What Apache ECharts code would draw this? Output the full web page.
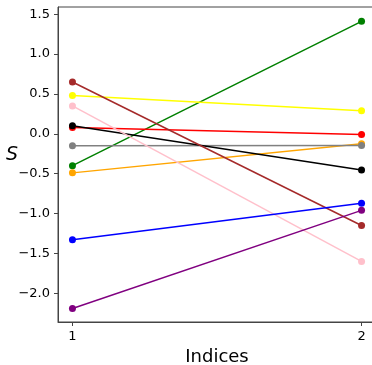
<!DOCTYPE html>
<html>
<head>
<meta charset="utf-8">
<script src="https://cdn.jsdelivr.net/npm/echarts@6/dist/echarts.min.js"></script>
<style>
  html, body { margin: 0; padding: 0; background: #fff; }
  #chart { width: 372px; height: 365px; }
</style>
</head>
<body>
<div id="chart"></div>
<script>
// x positions (indices)
const indices = [1, 2];
// one line per colour, values at index 1 and index 2
const seriesNames = ['green', 'yellow', 'red', 'orange', 'grey', 'black', 'brown', 'pink', 'blue', 'purple'];
const seriesColors = ['#008000', '#ffff00', '#ff0000', '#ffa500', '#808080', '#000000', '#a52a2a', '#ffc0cb', '#0000ff', '#800080'];
const startValues = [-0.40, 0.48, 0.08, -0.49, -0.15, 0.10, 0.65, 0.35, -1.33, -2.19];
const endValues = [1.41, 0.29, -0.01, -0.125, -0.147, -0.455, -1.15, -1.60, -0.87, -0.96];
const yTicks = [-2.0, -1.5, -1.0, -0.5, 0.0, 0.5, 1.0, 1.5];

const chart = echarts.init(document.getElementById('chart'));

function fmt(v) {
    const s = Math.abs(v).toFixed(1);
    return (v < -1e-9 ? '\u2212' : '') + s;
}

const series = seriesNames.map((name, i) => ({
    name: name,
    type: 'line',
    data: [[indices[0], startValues[i]], [indices[1], endValues[i]]],
    symbol: 'circle',
    symbolSize: 7,
    lineStyle: { color: seriesColors[i], width: 1.5 },
    itemStyle: { color: seriesColors[i] },
    animation: false
}));

const option = {
    animation: false,
    grid: {
        left: 58,
        top: 7,
        width: 318,
        height: 315,
        outerBoundsMode: 'none',
        containLabel: false,
        show: true,
        borderColor: '#444',
        borderWidth: 1
    },
    xAxis: {
        type: 'value',
        min: 0.95,
        max: 2.05,
        name: 'Indices',
        nameLocation: 'middle',
        nameGap: 26,
        nameTextStyle: { fontFamily: 'DejaVu Sans', fontSize: 18, color: '#000' },
        axisLine: { show: true, onZero: false, lineStyle: { color: '#444', width: 1 } },
        axisTick: { show: true, length: 4, lineStyle: { color: '#444' }, customValues: indices },
        axisLabel: { fontFamily: 'DejaVu Sans', fontSize: 13, color: '#000', margin: 8, customValues: indices },
        splitLine: { show: false }
    },
    yAxis: {
        type: 'value',
        min: -2.36,
        max: 1.59,
        name: 'S',
        nameLocation: 'middle',
        nameGap: 40,
        nameRotate: 0,
        nameMoveOverlap: false,
        nameTextStyle: { fontFamily: 'DejaVu Sans', fontSize: 19, fontStyle: 'italic', color: '#000', verticalAlign: 'bottom' },
        axisLine: { show: true, onZero: false, lineStyle: { color: '#444', width: 1 } },
        axisTick: { show: true, length: 4, lineStyle: { color: '#444' }, customValues: yTicks },
        axisLabel: { fontFamily: 'DejaVu Sans', fontSize: 13, color: '#000', margin: 8, customValues: yTicks, formatter: fmt },
        splitLine: { show: false }
    },
    series: series
};

chart.setOption(option);
</script>
</body>
</html>
